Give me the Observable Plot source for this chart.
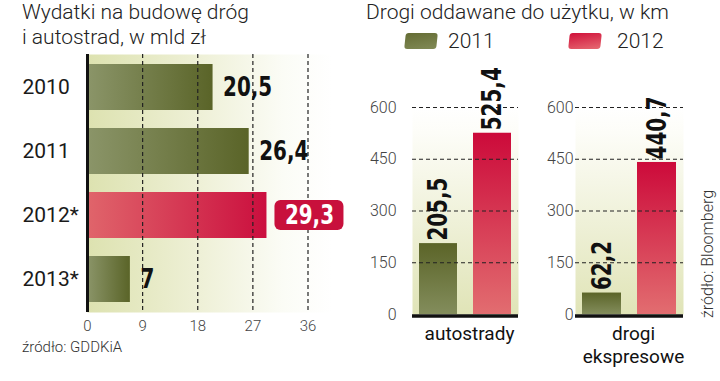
<!DOCTYPE html>
<html>
<head>
<meta charset="utf-8">
<script src="https://cdn.jsdelivr.net/npm/d3@7"></script>
<script src="https://cdn.jsdelivr.net/npm/@observablehq/plot@0.6"></script>
<style>
  html, body { margin: 0; padding: 0; background: #fff; }
  #root { position: relative; width: 720px; height: 381px; overflow: hidden; font-family: Roboto, "Noto Sans", sans-serif; color: #1a1a1a; }
  .abs { position: absolute; }
  .title { font-size: 21px; font-weight: 300; line-height: 24.5px; white-space: nowrap; color: #222; }
  .src { font-size: 15px; font-weight: 300; line-height: 18px; white-space: nowrap; color: #333; }
  .sw { width: 32px; height: 16px; border-radius: 3px; transform: skewX(-6deg); }
  .legtxt { font-size: 21px; font-weight: 300; line-height: 22px; color: #222; }
</style>
</head>
<body>
<div id="root">
  <div class="abs title" style="left:22px;top:0px">Wydatki na budowę dróg<br>i autostrad, w mld zł</div>
  <div class="abs title" style="left:366px;top:0px">Drogi oddawane do użytku, w km</div>
  <div class="abs sw" style="left:405px;top:33px;background:linear-gradient(170deg,#646c34,#818a56)"></div>
  <div class="abs legtxt" style="left:448px;top:30px">2011</div>
  <div class="abs sw" style="left:569px;top:33px;background:linear-gradient(170deg,#d0103a,#e66a72)"></div>
  <div class="abs legtxt" style="left:617px;top:30px">2012</div>
  <div class="abs src" style="left:22px;top:338px">źródło: GDDKiA</div>
  <div class="abs src" style="left:700px;top:318px;font-size:16px;line-height:16px;transform-origin:0 0;transform:rotate(-90deg)">źródło: Bloomberg</div>
  <div id="left" class="abs" style="left:0;top:0"></div>
  <div id="p1" class="abs" style="left:360px;top:0"></div>
  <div id="p2" class="abs" style="left:540px;top:0"></div>
</div>
<svg width="0" height="0" style="position:absolute">
  <defs>
    <linearGradient id="gH" x1="0" x2="1" y1="0" y2="0"><stop offset="0" stop-color="#8b9569"/><stop offset="1" stop-color="#5a6428"/></linearGradient>
    <linearGradient id="rH" x1="0" x2="1" y1="0" y2="0"><stop offset="0" stop-color="#e0656b"/><stop offset="1" stop-color="#cb0f3e"/></linearGradient>
    <linearGradient id="bgL" x1="0" x2="1" y1="0" y2="0"><stop offset="0" stop-color="#dde2b0"/><stop offset="0.45" stop-color="#eef0d6"/><stop offset="0.8" stop-color="#fbfcf6"/><stop offset="1" stop-color="#ffffff"/></linearGradient>
    <linearGradient id="gV" x1="0" x2="0" y1="0" y2="1"><stop offset="0" stop-color="#5b6428"/><stop offset="1" stop-color="#838d5c"/></linearGradient>
    <linearGradient id="rV" x1="0" x2="0" y1="0" y2="1"><stop offset="0" stop-color="#cc0a3a"/><stop offset="1" stop-color="#e26d70"/></linearGradient>
    <linearGradient id="bgV" x1="0" x2="0" y1="0" y2="1"><stop offset="0" stop-color="#ffffff"/><stop offset="0.12" stop-color="#fdfdf8"/><stop offset="1" stop-color="#e0e4b7"/></linearGradient>
  </defs>
</svg>
<script>
// ---- data ----
const spendYears = ["2010", "2011", "2012*", "2013*"];
const spendValues = [20.5, 26.4, 29.3, 7];
const spendHighlight = "2012*";
const spendTicks = [0, 9, 18, 27, 36];

const roadYears = ["2011", "2012"];
const roadCategories = ["autostrady", "drogi\nekspresowe"];
const motorwayKm = [205.5, 525.4];
const expresswayKm = [62.2, 440.7];
const kmTicks = [0, 150, 300, 450, 600];

// ---- fonts ----
function hasFont(name) {
  const c = document.createElement("canvas").getContext("2d");
  const s = "20,5 0123456789 abcdefghij";
  c.font = "bold 40px monospace"; const w0 = c.measureText(s).width;
  c.font = `bold 40px "${name}", monospace`; const w1 = c.measureText(s).width;
  return Math.abs(w0 - w1) > 0.5;
}
const narrow = hasFont("Liberation Sans Narrow");
const numFont = narrow
  ? {family: "Liberation Sans Narrow", size: 28, squeeze: 1}
  : {family: "DejaVu Sans Condensed", size: 27, squeeze: 0.82};

const fmt = v => String(v).replace(".", ",");

// ---- left chart ----
const spend = spendYears.map((y, i) => ({year: y, value: spendValues[i]}));
const normal = spend.filter(d => d.year !== spendHighlight);
const hl = spend.filter(d => d.year === spendHighlight);

const left = Plot.plot({
  width: 360, height: 340,
  marginLeft: 87, marginRight: 28, marginTop: 54, marginBottom: 28,
  style: {fontFamily: "Roboto", background: "transparent", overflow: "visible"},
  x: {domain: [0, 40], label: null},
  y: {domain: spendYears, paddingInner: 0.28, paddingOuter: 0.14, label: null},
  marks: [
    Plot.frame({fill: "url(#bgL)", stroke: "none"}),
    Plot.barX(normal, {y: "year", x: "value", fill: "url(#gH)"}),
    Plot.barX(hl, {y: "year", x: "value", fill: "url(#rH)"}),
    Plot.ruleX(spendTicks.slice(1), {stroke: "#222", strokeWidth: 1.2, strokeDasharray: "4 3"}),
    Plot.ruleX([0], {stroke: "#111", strokeWidth: 3}),
    Plot.axisX({ticks: spendTicks, tickSize: 0, tickPadding: 8, fontSize: 15, fontWeight: 300, fill: "#444", label: null}),
    Plot.axisY({tickSize: 0, tickPadding: 0, textAnchor: "start", dx: -65, fontSize: 21, fill: "#1a1a1a", label: null}),
    Plot.text(normal, {x: "value", y: "year", text: d => fmt(d.value), textAnchor: "start", dx: 10,
      fontSize: numFont.size, fontWeight: "bold", fontFamily: numFont.family, fill: "#111"}),
    Plot.barX(hl, {x1: "value", x2: "value", y: "year", insetLeft: 8, insetRight: -77, insetTop: 8, insetBottom: 8, rx: 6, fill: "#c8103c"}),
    Plot.text(hl, {x: "value", y: "year", text: d => fmt(d.value), textAnchor: "middle", dx: 42.5,
      fontSize: numFont.size, fontWeight: "bold", fontFamily: numFont.family, fill: "#fff"})
  ]
});
document.getElementById("left").append(left);

// ---- right panels ----
function panel(cat, vals, ml, mr, pad) {
  const data = roadYears.map((y, i) => ({year: y, value: vals[i]}));
  return Plot.plot({
    width: 180, height: 381,
    marginLeft: ml, marginRight: mr, marginTop: 107, marginBottom: 67,
    style: {fontFamily: "Roboto", background: "transparent", overflow: "visible"},
    x: {domain: roadYears, paddingInner: 0.3, paddingOuter: 0.13, axis: null, label: null},
    y: {domain: [0, 600], axis: null, label: null},
    marks: [
      Plot.frame({fill: "url(#bgV)", stroke: "none"}),
      Plot.barY(data.filter(d => d.year === roadYears[0]), {x: "year", y: "value", fill: "url(#gV)"}),
      Plot.barY(data.filter(d => d.year === roadYears[1]), {x: "year", y: "value", fill: "url(#rV)"}),
      Plot.ruleY(kmTicks.slice(1), {stroke: "#222", strokeWidth: 1.2, strokeDasharray: "4 3"}),
      Plot.ruleY([0], {stroke: "#111", strokeWidth: 3.5, dy: 1.5}),
      Plot.axisY({ticks: kmTicks, tickSize: 0, tickPadding: pad, fontSize: 16, fontWeight: 300, fill: "#444", label: null}),
      Plot.text(data, {x: "year", y: "value", text: d => fmt(d.value), rotate: -90, textAnchor: "start", dy: -3,
        fontSize: numFont.size, fontWeight: "bold", fontFamily: numFont.family, fill: "#111"}),
      Plot.text([cat], {frameAnchor: "bottom", text: d => d, lineAnchor: "top", dy: 10, dx: 4,
        fontSize: 19, lineHeight: 1.18, fill: "#111"})
    ]
  });
}
document.getElementById("p1").append(panel(roadCategories[0], motorwayKm, 52, 22, 16));
document.getElementById("p2").append(panel(roadCategories[1], expresswayKm, 35, 37, 2));

// condense the bold value labels (narrow face is not installed)
if (numFont.squeeze !== 1) {
  document.querySelectorAll('#root g[font-weight="bold"] text').forEach(t => {
    const w = t.getComputedTextLength();
    t.setAttribute("textLength", (w * numFont.squeeze).toFixed(1));
    t.setAttribute("lengthAdjust", "spacingAndGlyphs");
  });
}
</script>
</body>
</html>
